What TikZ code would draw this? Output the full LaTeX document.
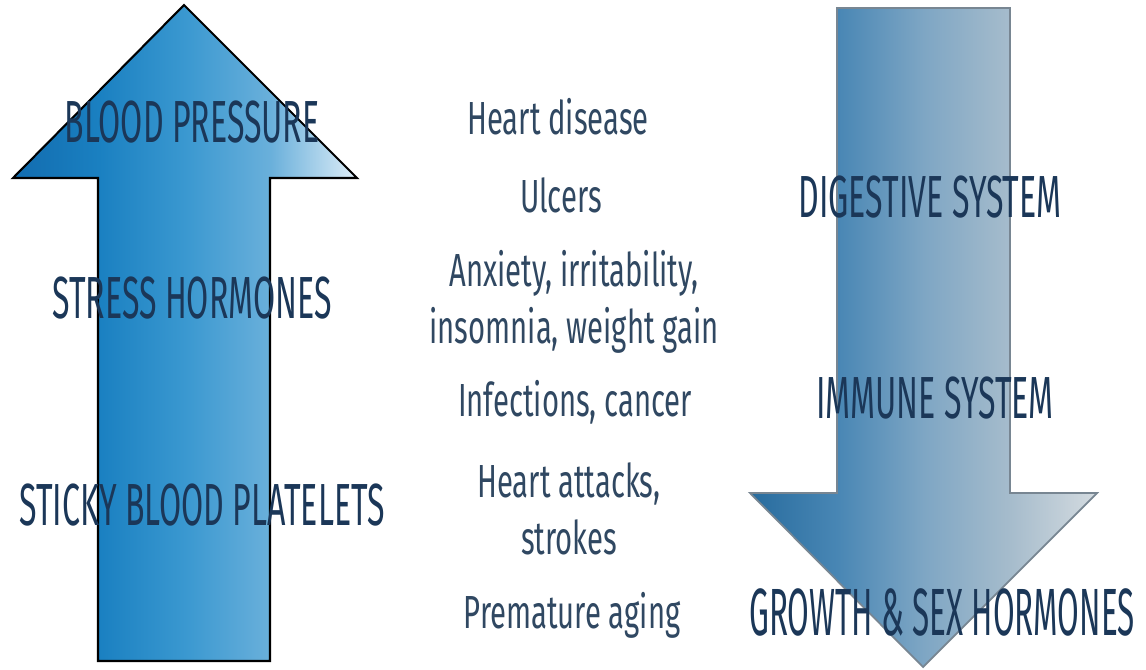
\documentclass[tikz,border=0pt]{standalone}
\usepackage{fontspec}
\usepackage{xcolor}
\usepackage{tikz}
\usetikzlibrary{positioning}
\newfontfamily\capsfont[FakeStretch=0.54]{Fira Sans}
\newfontfamily\tallfont[FakeStretch=0.47]{Fira Sans}
\newfontfamily\listfont[FakeStretch=0.63]{Fira Sans}
\definecolor{tnavy}{RGB}{27,55,88}
\definecolor{tslate}{RGB}{48,72,98}
\definecolor{upA}{RGB}{18,108,175}
\definecolor{upB}{RGB}{26,128,193}
\definecolor{upC}{RGB}{58,152,208}
\definecolor{upD}{RGB}{106,176,219}
\definecolor{upE}{RGB}{222,237,247}
\definecolor{dnA}{RGB}{40,108,158}
\definecolor{dnB}{RGB}{72,134,180}
\definecolor{dnC}{RGB}{126,166,196}
\definecolor{dnD}{RGB}{166,188,204}
\definecolor{dnE}{RGB}{212,219,224}
\definecolor{dnline}{RGB}{120,134,146}
% left-to-right fills, the path box spans 25bp--75bp
\pgfdeclarehorizontalshading{upfill}{100bp}{color(0bp)=(upA); color(25bp)=(upA); color(37.5bp)=(upB); color(50bp)=(upC); color(62.5bp)=(upD); color(75bp)=(upE); color(100bp)=(upE)}
\pgfdeclarehorizontalshading{downfill}{100bp}{color(0bp)=(dnA); color(25bp)=(dnA); color(37.5bp)=(dnB); color(50bp)=(dnC); color(62.5bp)=(dnD); color(75bp)=(dnE); color(100bp)=(dnE)}
\tikzset{
  caplabel/.style={anchor=base, text=tnavy, inner sep=0pt, font=\capsfont\fontsize{16.9}{18}\selectfont},
  biglabel/.style={caplabel, font=\tallfont\fontsize{19}{21}\selectfont},
  effect/.style={anchor=base, text=tslate, inner sep=0pt, align=center, font=\listfont\fontsize{13.2}{16}\selectfont}
}
\begin{document}
\begin{tikzpicture}[x=0.01cm, y=-0.01cm]
    \useasboundingbox[fill=white] (0,0) rectangle (1146,669);

    % Rising arrow
    \path[shading=upfill, draw=black, line width=0.6pt, line join=miter]
      (98,661) -- (98,178) -- (13,178) -- (184,5) -- (357,178) -- (270,178) -- (270,661) -- cycle;

    % Falling arrow
    \path[shading=downfill, draw=dnline, line width=0.5pt, line join=miter]
      (837,8) -- (1010,8) -- (1010,493) -- (1097,493) -- (923,667) -- (750,493) -- (837,493) -- cycle;

    % What goes up
    \node[caplabel] (bp) at (192,142) {BLOOD PRESSURE};
    \node[caplabel] (sh) at (192,318) {STRESS HORMONES};
    \node[caplabel] (sbp) at (202,525) {STICKY BLOOD PLATELETS};

    % What goes down
    \node[caplabel] (dig) at (930,217) {DIGESTIVE SYSTEM};
    \node[caplabel] (imm) at (935,418) {IMMUNE SYSTEM};
    \node[biglabel] (gsh) at (942,635) {GROWTH \& SEX HORMONES};

    % Consequences in the middle (base = last line)
    \foreach \n/\x/\y/\txt in {m1/558/134/{Heart disease},
                                m2/561/212/{Ulcers},
                                m3/574/343/{Anxiety, irritability,\\insomnia, weight gain},
                                m4/575/416/{Infections, cancer},
                                m5/569/554/{Heart attacks,\\strokes},
                                m6/572/628/{Premature aging}} {
      \node[effect] (\n) at (\x,\y) {\txt};
    }
  \end{tikzpicture}
\end{document}
